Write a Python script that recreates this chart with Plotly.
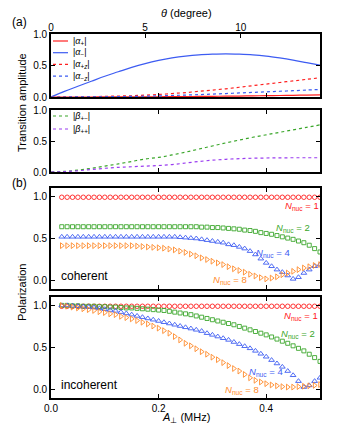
import math
import plotly.graph_objects as go

W, H = 339, 437
FONT = "Liberation Sans, Arial, sans-serif"

# ---- panel (a): transition amplitudes vs A_perp (MHz)
a_line = [0.0, 0.025, 0.05, 0.075, 0.1, 0.125, 0.15, 0.175, 0.2, 0.225, 0.25,
          0.275, 0.3, 0.325, 0.35, 0.375, 0.4, 0.425, 0.45, 0.475, 0.5]
alpha_p = [0.0, 0.0, 0.0, 0.0, 0.001, 0.001, 0.002, 0.003, 0.004, 0.005, 0.007,
           0.009, 0.011, 0.013, 0.015, 0.018, 0.021, 0.024, 0.027, 0.030, 0.033]
alpha_m = [0.0, 0.09, 0.17, 0.25, 0.33, 0.40, 0.47, 0.53, 0.58, 0.62, 0.65,
           0.67, 0.68, 0.685, 0.68, 0.67, 0.65, 0.62, 0.585, 0.545, 0.505]
alpha_pz = [0.0, 0.001, 0.003, 0.005, 0.01, 0.015, 0.02, 0.03, 0.04, 0.055, 0.07,
            0.09, 0.11, 0.13, 0.155, 0.18, 0.205, 0.23, 0.255, 0.28, 0.305]
alpha_mz = [0.0, 0.0, 0.001, 0.002, 0.004, 0.006, 0.009, 0.013, 0.018, 0.024, 0.031,
            0.038, 0.046, 0.055, 0.064, 0.073, 0.082, 0.091, 0.10, 0.11, 0.12]
beta_pm = [0.0, 0.01, 0.03, 0.06, 0.095, 0.13, 0.17, 0.21, 0.235, 0.275, 0.32,
           0.37, 0.42, 0.47, 0.515, 0.56, 0.60, 0.64, 0.68, 0.72, 0.76]
beta_pp = [0.0, 0.005, 0.02, 0.04, 0.06, 0.075, 0.085, 0.095, 0.105, 0.12, 0.145,
           0.17, 0.19, 0.205, 0.215, 0.222, 0.226, 0.228, 0.23, 0.23, 0.23]

theta_ticks = [0, 5, 10]   # degrees, theta = atan(A_perp / B)
b_field = 2.0              # MHz

# ---- panel (b): polarization vs A_perp
a_pts = [0.02, 0.03, 0.04, 0.05, 0.06, 0.07, 0.08, 0.09, 0.10, 0.11, 0.12, 0.13,
         0.14, 0.15, 0.16, 0.17, 0.18, 0.19, 0.20, 0.21, 0.22, 0.23, 0.24, 0.25,
         0.26, 0.27, 0.28, 0.29, 0.30, 0.31, 0.32, 0.33, 0.34, 0.35, 0.36, 0.37,
         0.38, 0.39, 0.40, 0.41, 0.42, 0.43, 0.44, 0.45, 0.46, 0.47, 0.48, 0.49, 0.50]

coh_n1 = [0.99, 0.99, 0.99, 0.99, 0.99, 0.99, 0.99, 0.99, 0.99, 0.99, 0.99, 0.99,
          0.99, 0.99, 0.99, 0.99, 0.99, 0.99, 0.99, 0.99, 0.99, 0.99, 0.99, 0.99,
          0.99, 0.99, 0.99, 0.99, 0.99, 0.99, 0.99, 0.99, 0.99, 0.99, 0.99, 0.99,
          0.99, 0.99, 0.99, 0.99, 0.99, 0.99, 0.99, 0.99, 0.99, 0.99, 0.99, 0.99, 0.99]
coh_n2 = [0.64, 0.64, 0.64, 0.64, 0.64, 0.64, 0.64, 0.64, 0.64, 0.64, 0.64, 0.64,
          0.64, 0.64, 0.64, 0.64, 0.64, 0.64, 0.64, 0.64, 0.64, 0.64, 0.64, 0.64,
          0.64, 0.64, 0.635, 0.635, 0.63, 0.63, 0.625, 0.62, 0.615, 0.61, 0.60, 0.595,
          0.585, 0.57, 0.56, 0.55, 0.535, 0.52, 0.505, 0.49, 0.47, 0.45, 0.42, 0.38, 0.34]
coh_n4 = [0.52, 0.52, 0.52, 0.52, 0.52, 0.52, 0.52, 0.52, 0.52, 0.52, 0.52, 0.52,
          0.52, 0.52, 0.52, 0.52, 0.52, 0.52, 0.52, 0.52, 0.52, 0.52, 0.515, 0.51,
          0.505, 0.50, 0.49, 0.48, 0.47, 0.46, 0.45, 0.43, 0.42, 0.40, 0.38, 0.35,
          0.31, 0.26, 0.21, 0.17, 0.13, 0.10, 0.06, 0.02, 0.04, 0.09, 0.13, 0.17, 0.19]
coh_n8 = [0.415, 0.415, 0.415, 0.415, 0.415, 0.415, 0.415, 0.415, 0.415, 0.415, 0.415, 0.415,
          0.415, 0.415, 0.41, 0.405, 0.40, 0.395, 0.39, 0.385, 0.375, 0.365, 0.35, 0.335,
          0.315, 0.295, 0.27, 0.25, 0.23, 0.21, 0.19, 0.165, 0.14, 0.12, 0.10, 0.075,
          0.055, 0.035, 0.02, 0.03, 0.045, 0.07, 0.09, 0.11, 0.13, 0.15, 0.165, 0.18, 0.19]

inc_n1 = [0.99, 0.99, 0.99, 0.99, 0.99, 0.99, 0.99, 0.99, 0.99, 0.99, 0.99, 0.99,
          0.99, 0.99, 0.99, 0.99, 0.99, 0.99, 0.99, 0.99, 0.99, 0.99, 0.99, 0.99,
          0.99, 0.99, 0.99, 0.99, 0.99, 0.99, 0.99, 0.99, 0.99, 0.99, 0.99, 0.99,
          0.99, 0.99, 0.99, 0.99, 0.99, 0.99, 0.99, 0.99, 0.99, 0.99, 0.99, 0.99, 0.99]
inc_n2 = [1.0, 1.0, 0.995, 0.995, 0.99, 0.99, 0.99, 0.985, 0.985, 0.98, 0.98, 0.975,
          0.97, 0.97, 0.965, 0.96, 0.955, 0.95, 0.945, 0.94, 0.93, 0.92, 0.91, 0.90,
          0.89, 0.875, 0.86, 0.845, 0.83, 0.815, 0.80, 0.785, 0.77, 0.75, 0.73, 0.71,
          0.69, 0.67, 0.65, 0.625, 0.60, 0.575, 0.55, 0.52, 0.49, 0.46, 0.42, 0.38, 0.335]
inc_n4 = [1.0, 1.0, 0.995, 0.99, 0.985, 0.98, 0.975, 0.965, 0.955, 0.945, 0.935, 0.92,
          0.905, 0.89, 0.875, 0.86, 0.845, 0.83, 0.815, 0.80, 0.785, 0.77, 0.755, 0.74,
          0.725, 0.71, 0.695, 0.67, 0.65, 0.63, 0.61, 0.59, 0.565, 0.54, 0.515, 0.49,
          0.46, 0.425, 0.39, 0.35, 0.31, 0.27, 0.22, 0.17, 0.10, 0.03, 0.05, 0.10, 0.14]
inc_n8 = [1.0, 0.99, 0.98, 0.97, 0.96, 0.95, 0.94, 0.925, 0.915, 0.90, 0.89, 0.87,
          0.855, 0.84, 0.82, 0.80, 0.78, 0.755, 0.73, 0.70, 0.67, 0.63, 0.59, 0.55,
          0.52, 0.485, 0.45, 0.42, 0.385, 0.355, 0.32, 0.285, 0.25, 0.22, 0.18, 0.14,
          0.11, 0.09, 0.07, 0.055, 0.045, 0.035, 0.03, 0.03, 0.035, 0.04, 0.045, 0.05, 0.06]

RED = "#ff2020"
BLUE = "#3d5cf2"
GREEN = "#3aa62a"
ORANGE = "#ff8a2a"
PURPLE = "#9a3cf0"


def px(x):
    return x / W


def py(y):
    return 1 - y / H


xdom = [px(51), px(320)]
ydoms = [[py(97), py(34)], [py(172), py(110)], [py(289), py(188)], [py(398), py(297)]]

fig = go.Figure()

# panel 1 lines
for y, col, dash in [(alpha_p, RED, "solid"), (alpha_m, BLUE, "solid"),
                     (alpha_pz, RED, "dot"), (alpha_mz, BLUE, "dot")]:
    fig.add_trace(go.Scatter(x=a_line, y=y, mode="lines", xaxis="x", yaxis="y",
                             line=dict(color=col, width=1.2, dash=dash, shape="spline"),
                             showlegend=False, hoverinfo="skip"))
# dummy trace so the top theta axis is drawn
fig.add_trace(go.Scatter(x=[0, 0.5], y=[0, 0], mode="lines", xaxis="x5", yaxis="y",
                         line=dict(width=0), showlegend=False, hoverinfo="skip"))

# panel 2 lines
for y, col in [(beta_pm, GREEN), (beta_pp, PURPLE)]:
    fig.add_trace(go.Scatter(x=a_line, y=y, mode="lines", xaxis="x2", yaxis="y2",
                             line=dict(color=col, width=1.2, dash="dot", shape="spline"),
                             showlegend=False, hoverinfo="skip"))

# panels 3, 4 markers
series = [
    ("x3", "y3", [(coh_n1, RED, "circle-open", 4.5), (coh_n2, GREEN, "square-open", 4),
                  (coh_n4, BLUE, "triangle-up-open", 5), (coh_n8, ORANGE, "triangle-right-open", 5)]),
    ("x4", "y4", [(inc_n1, RED, "circle-open", 4.5), (inc_n2, GREEN, "square-open", 4),
                  (inc_n4, BLUE, "triangle-up-open", 5), (inc_n8, ORANGE, "triangle-right-open", 5)]),
]
for xa, ya, sets in series:
    for y, col, sym, sz in sets:
        fig.add_trace(go.Scatter(x=a_pts, y=y, mode="markers", xaxis=xa, yaxis=ya,
                                 marker=dict(symbol=sym, size=sz, color=col,
                                             line=dict(color=col, width=0.9)),
                                 showlegend=False, hoverinfo="skip"))

axis_common = dict(showline=True, linecolor="black", linewidth=1.8, ticks="inside",
                   ticklen=4, tickwidth=1.2, tickcolor="black", showgrid=False,
                   zeroline=False, automargin=False,
                   tickfont=dict(family=FONT, size=10, color="black"))

layout_axes = {}
for i in range(4):
    n = "" if i == 0 else str(i + 1)
    layout_axes["xaxis" + n] = dict(axis_common, domain=xdom, anchor="y" + n,
                                    range=[0, 0.5], tick0=0, dtick=0.2,
                                    mirror=True if i == 0 else "ticks",
                                    showticklabels=(i == 3), tickformat=".1f")
    yr = [0, 1] if i < 2 else [-0.1, 1.1]
    layout_axes["yaxis" + n] = dict(axis_common, domain=ydoms[i], anchor="x" + n,
                                    range=yr, tickvals=[0, 0.5, 1.0],
                                    ticktext=["0.0", "0.5", "1.0"], mirror="ticks")

layout_axes["xaxis5"] = dict(axis_common, overlaying="x", side="top", anchor="y",
                             range=[0, 0.5], showline=False,
                             tickvals=[b_field * math.tan(math.radians(t)) for t in theta_ticks],
                             ticktext=[str(t) for t in theta_ticks])

fig.update_layout(**layout_axes)

ann = []
shapes = []


def text(x, y, s, size=11, color="black", **kw):
    d = dict(x=x, y=y, xref="paper", yref="paper", text=s, showarrow=False,
             xanchor="center", yanchor="middle",
             font=dict(family=FONT, size=size, color=color))
    d.update(kw)
    ann.append(d)


text(px(19), py(22), "(a)", 12)
text(px(19), py(183), "(b)", 12)
text(px(186), py(13), "<i>θ</i> (degree)", 11)
text(px(22), py(103), "Transition amplitude", 11, textangle=-90)
text(px(22), py(293), "Polarization", 11, textangle=-90)
text(px(186), py(418), "<i>A</i><sub>⊥</sub> (MHz)", 11)

# hand-drawn legends
leg1 = [("|<i>α</i><sub>+</sub>|", RED, "solid"), ("|<i>α</i><sub>−</sub>|", BLUE, "solid"),
        ("|<i>α</i><sub>+<i>z</i></sub>|", RED, "dot"), ("|<i>α</i><sub>−<i>z</i></sub>|", BLUE, "dot")]
for k, (lab, col, dash) in enumerate(leg1):
    yy = 41 + 11.7 * k
    shapes.append(dict(type="line", xref="paper", yref="paper", x0=px(53), x1=px(68),
                       y0=py(yy), y1=py(yy), line=dict(color=col, width=1.2, dash=dash)))
    text(px(71), py(yy), lab, 9, xanchor="left")
leg2 = [("|<i>β</i><sub>+−</sub>|", GREEN), ("|<i>β</i><sub>++</sub>|", PURPLE)]
for k, (lab, col) in enumerate(leg2):
    yy = 116 + 13 * k
    shapes.append(dict(type="line", xref="paper", yref="paper", x0=px(53), x1=px(68),
                       y0=py(yy), y1=py(yy), line=dict(color=col, width=1.2, dash="dot")))
    text(px(71), py(yy), lab, 9, xanchor="left")

for xa, ya, lab in [("x3", "y3", "coherent"), ("x4", "y4", "incoherent")]:
    ann.append(dict(x=0.015, y=0.05, xref=xa, yref=ya, text=lab, showarrow=False,
                    xanchor="left", yanchor="middle",
                    font=dict(family=FONT, size=12, color="black")))

nuc_labels = [
    ("x3", "y3", [(0.466, 0.89, "1", RED), (0.45, 0.63, "2", GREEN),
                  (0.412, 0.325, "4", BLUE), (0.333, 0.01, "8", ORANGE)]),
    ("x4", "y4", [(0.465, 0.88, "1", RED), (0.459, 0.665, "2", GREEN),
                  (0.40, 0.21, "4", BLUE), (0.355, 0.0, "8", ORANGE)]),
]
for xa, ya, items in nuc_labels:
    for x, y, n, col in items:
        ann.append(dict(x=x, y=y, xref=xa, yref=ya, showarrow=False,
                        xanchor="center", yanchor="middle",
                        text="<i>N</i><sub>nuc</sub> = " + n,
                        font=dict(family=FONT, size=9.5, color=col)))

fig.update_layout(template="none", width=W, height=H,
                  margin=dict(l=0, r=0, t=0, b=0, pad=0, autoexpand=False),
                  paper_bgcolor="white", plot_bgcolor="white",
                  annotations=ann, shapes=shapes, showlegend=False,
                  font=dict(family=FONT, color="black"))

fig.write_html("out.html", config={"displayModeBar": False},
               post_script="document.body.style.margin='0';document.body.style.overflow='hidden';")
